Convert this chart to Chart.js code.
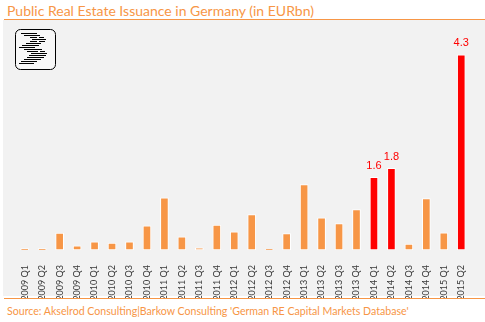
<!DOCTYPE html>
<html>
<head>
<meta charset="utf-8">
<script src="https://cdn.jsdelivr.net/npm/chart.js@4/dist/chart.umd.min.js"></script>
<style>
  html, body { margin: 0; padding: 0; background: #fff; }
  #page { position: relative; width: 485px; height: 322px; overflow: hidden; }
  #title { position: absolute; left: 7px; top: 2px; font: 14px Lato, sans-serif; color: #F79646; white-space: nowrap; }
  #topRule { position: absolute; left: 4px; top: 19px; width: 481px; height: 1px; background: #F79646; }
  #plotBg { position: absolute; left: 3px; top: 20px; width: 482px; height: 276px; background: #F2F2F2; }
  #chart { position: absolute; left: 0; top: 20px; }
  #logo { position: absolute; left: 15px; top: 29px; }
  #bottomRule { position: absolute; left: 4px; top: 298px; width: 481px; height: 1px; background: #F79646; }
  #source { position: absolute; left: 7px; top: 305px; font: 10.6px Lato, sans-serif; color: #F79646; white-space: nowrap; }
</style>
</head>
<body>
<div id="page">
  <div id="title">Public Real Estate Issuance in Germany (in EURbn)</div>
  <div id="topRule"></div>
  <div id="plotBg"></div>
  <canvas id="chart" width="485" height="278"></canvas>
  <svg id="logo" width="42" height="42" viewBox="0 0 42 42"></svg>
  <div id="bottomRule"></div>
  <div id="source">Source: Akselrod Consulting|Barkow Consulting 'German RE Capital Markets Database'</div>
</div>
<script>
// Quarterly issuance, EUR bn
const quarters = [
  '2009 Q1', '2009 Q2', '2009 Q3', '2009 Q4',
  '2010 Q1', '2010 Q2', '2010 Q3', '2010 Q4',
  '2011 Q1', '2011 Q2', '2011 Q3', '2011 Q4',
  '2012 Q1', '2012 Q2', '2012 Q3', '2012 Q4',
  '2013 Q1', '2013 Q2', '2013 Q3', '2013 Q4',
  '2014 Q1', '2014 Q2', '2014 Q3', '2014 Q4',
  '2015 Q1', '2015 Q2'
];
const issuance = [
  0.03, 0.03, 0.37, 0.09,
  0.18, 0.15, 0.18, 0.53,
  1.15, 0.29, 0.05, 0.55,
  0.40, 0.78, 0.02, 0.36,
  1.44, 0.71, 0.58, 0.89,
  1.6, 1.8, 0.13, 1.13,
  0.38, 4.3
];
// quarters shown in red with a value label
const highlighted = ['2014 Q1', '2014 Q2', '2015 Q2'];

const ORANGE = '#F79646';
const RED = '#FF0000';

// logo: rounded box with stacked lines
(function drawLogo() {
    const svg = document.getElementById('logo');
    const rows = [
        [4, 6, 22], [6, 9, 25], [8, 15, 22], [8, 24, 29], [10, 17, 31],
        [12, 15, 22], [12, 24, 30], [14, 11, 26], [16, 7, 24], [18, 4, 20],
        [20, 9, 27], [22, 12, 23], [22, 25, 30], [24, 16, 32], [26, 14, 31],
        [28, 12, 29], [30, 9, 26], [32, 6, 22], [34, 4, 19]
    ];
    let html = '<rect x="0.5" y="0.5" width="40" height="40" rx="5" ry="5" fill="#F7F7F7" stroke="#000" stroke-width="1"/>';
    rows.forEach(r => {
        html += `<line x1="${r[1]}" y1="${r[0] + 0.5}" x2="${r[2]}" y2="${r[0] + 0.5}" stroke="#000" stroke-width="1"/>`;
    });
    svg.innerHTML = html;
})();

// value labels above the red bars
const valueLabels = {
    id: 'valueLabels',
    afterDatasetsDraw(chart) {
        const ctx = chart.ctx;
        const meta = chart.getDatasetMeta(0);
        ctx.save();
        ctx.font = '11px "Liberation Sans", Arial, sans-serif';
        ctx.fillStyle = RED;
        ctx.textAlign = 'center';
        ctx.textBaseline = 'bottom';
        quarters.forEach((q, i) => {
            if (!highlighted.includes(q)) return;
            const bar = meta.data[i];
            ctx.fillText(issuance[i].toFixed(1), bar.x, bar.y - 6);
        });
        ctx.restore();
    }
};

new Chart(document.getElementById('chart'), {
    type: 'bar',
    data: {
        labels: quarters,
        datasets: [{
            data: issuance,
            backgroundColor: quarters.map(q => highlighted.includes(q) ? RED : ORANGE),
            borderColor: '#FFFFFF',
            borderWidth: 1,
            borderSkipped: false,
            barThickness: 8
        }]
    },
    options: {
        responsive: false,
        animation: false,
        devicePixelRatio: 1,
        layout: { padding: { left: 16, right: 15, top: 3, bottom: 0 } },
        plugins: {
            legend: { display: false },
            tooltip: { enabled: false }
        },
        scales: {
            x: {
                grid: { display: false },
                border: { display: false },
                afterFit(scale) { scale.height = 48; },
                ticks: {
                    minRotation: 90,
                    maxRotation: 90,
                    autoSkip: false,
                    padding: 7,
                    color: '#3A3A3A',
                    font: { family: 'Lato', size: 9 }
                }
            },
            y: {
                display: false,
                min: 0,
                max: 5
            }
        }
    },
    plugins: [valueLabels]
});
</script>
</body>
</html>
